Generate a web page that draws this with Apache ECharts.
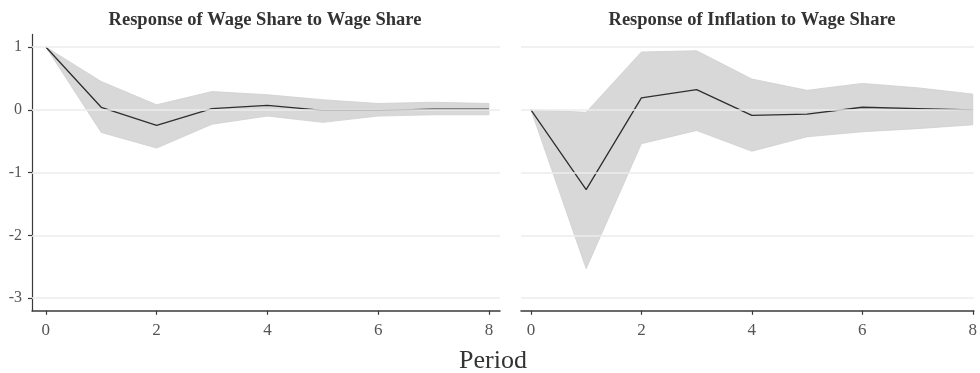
<!DOCTYPE html>
<html>
<head>
<meta charset="utf-8">
<script src="https://cdn.jsdelivr.net/npm/echarts@6/dist/echarts.min.js"></script>
<style>
  html, body { margin: 0; padding: 0; background: #fff; }
  #chart { width: 980px; height: 373px; }
</style>
</head>
<body>
<div id="chart"></div>
<script>
// Impulse responses over 8 periods with confidence bands
const periods = [0, 1, 2, 3, 4, 5, 6, 7, 8];

const wageResp  = [1.00, 0.04, -0.25, 0.02, 0.07, -0.01, -0.01, 0.01, 0.01];
const wageUpper = [1.00, 0.45, 0.08, 0.29, 0.24, 0.16, 0.10, 0.12, 0.10];
const wageLower = [1.00, -0.36, -0.61, -0.23, -0.10, -0.20, -0.10, -0.08, -0.08];

const inflResp  = [0.00, -1.27, 0.19, 0.32, -0.09, -0.07, 0.04, 0.02, 0.00];
const inflUpper = [0.00, -0.04, 0.92, 0.94, 0.49, 0.31, 0.42, 0.35, 0.25];
const inflLower = [0.00, -2.53, -0.54, -0.33, -0.66, -0.43, -0.35, -0.30, -0.24];

const xTicks = [0, 2, 4, 6, 8];
const yTicks = [-3, -2, -1, 0, 1];

const titles = ['Response of Wage Share to Wage Share', 'Response of Inflation to Wage Share'];
const xTitle = 'Period';

const SERIF = '"Liberation Serif", "DejaVu Serif", serif';

function bandSeries(idx, upper, lower) {
  return {
    type: 'custom',
    xAxisIndex: idx, yAxisIndex: idx,
    silent: true, z: 1,
    data: [0],
    renderItem: function (params, api) {
      const top = periods.map((p, i) => api.coord([p, upper[i]]));
      const bottom = periods.map((p, i) => api.coord([p, lower[i]])).reverse();
      return {
        type: 'polygon',
        shape: { points: top.concat(bottom) },
        style: { fill: '#d8d8d8', stroke: '#cfcfcf', lineWidth: 0.8 }
      };
    }
  };
}

function lineSeries(idx, values) {
  return {
    type: 'line',
    xAxisIndex: idx, yAxisIndex: idx,
    data: periods.map((p, i) => [p, values[i]]),
    showSymbol: false, silent: true, z: 3,
    lineStyle: { color: '#2e2e2e', width: 1.3 }
  };
}

function gridLines(idx) {
  return {
    type: 'line',
    xAxisIndex: idx, yAxisIndex: idx,
    data: [], silent: true, z: 0,
    markLine: {
      silent: true, symbol: 'none', label: { show: false },
      lineStyle: { color: '#ededed', width: 1.5, type: 'solid' },
      data: yTicks.map(v => ({ yAxis: v }))
    }
  };
}

const chart = echarts.init(document.getElementById('chart'), null, { renderer: 'canvas' });

const xAxisBase = {
  type: 'value',
  splitLine: { show: false },
  axisLine: { show: true, onZero: false, lineStyle: { color: '#3a3a3a', width: 1.5 } },
  axisTick: { show: true, customValues: xTicks, length: 4, lineStyle: { color: '#3a3a3a', width: 1.2 } },
  axisLabel: { customValues: xTicks, color: '#555', fontFamily: SERIF, fontSize: 17, margin: 11 }
};

const titleFont = 'bold 18.5px ' + SERIF;

chart.setOption({
  animation: false,
  backgroundColor: '#ffffff',
  graphic: [
    { type: 'text', x: 265, y: 20, style: { text: titles[0], font: titleFont, fill: '#333', align: 'center', verticalAlign: 'middle' } },
    { type: 'text', x: 752, y: 20, style: { text: titles[1], font: titleFont, fill: '#333', align: 'center', verticalAlign: 'middle' } },
    { type: 'text', x: 493, y: 361, style: { text: xTitle, font: '26px ' + SERIF, fill: '#333', align: 'center', verticalAlign: 'middle' } }
  ],
  grid: [
    { left: 32, top: 34.4, width: 468, height: 276.4, containLabel: false },
    { left: 521, top: 34.4, width: 456, height: 276.4, containLabel: false }
  ],
  xAxis: [
    Object.assign({}, xAxisBase, { gridIndex: 0, min: -0.25, max: 8.2 }),
    Object.assign({}, xAxisBase, { gridIndex: 1, min: -0.18, max: 8.02 })
  ],
  yAxis: [
    {
      type: 'value', gridIndex: 0, min: -3.2, max: 1.2,
      splitLine: { show: false },
      axisLine: { show: true, onZero: false, lineStyle: { color: '#3a3a3a', width: 1.2 } },
      axisTick: { show: true, customValues: yTicks, length: 4, lineStyle: { color: '#3a3a3a', width: 1.2 } },
      axisLabel: { customValues: yTicks, color: '#555', fontFamily: SERIF, fontSize: 16, margin: 10 }
    },
    {
      type: 'value', gridIndex: 1, min: -3.2, max: 1.2,
      splitLine: { show: false },
      axisLine: { show: false },
      axisTick: { show: false },
      axisLabel: { show: false }
    }
  ],
  series: [
    gridLines(0), gridLines(1),
    bandSeries(0, wageUpper, wageLower),
    bandSeries(1, inflUpper, inflLower),
    lineSeries(0, wageResp),
    lineSeries(1, inflResp)
  ]
});
</script>
</body>
</html>
